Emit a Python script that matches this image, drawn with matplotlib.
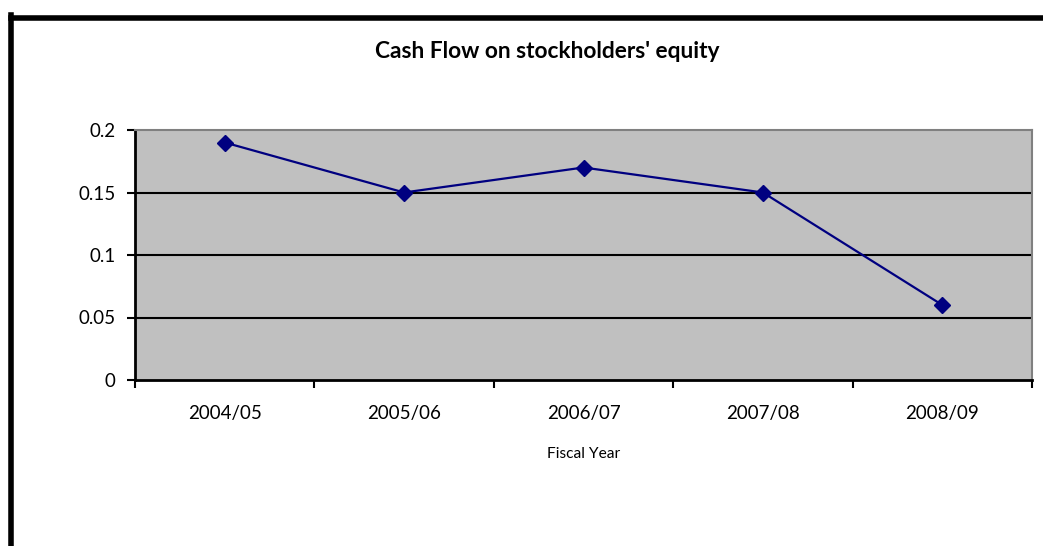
import matplotlib.pyplot as plt
from matplotlib.lines import Line2D
from matplotlib.ticker import FixedLocator, NullFormatter

years = ["2004/05", "2005/06", "2006/07", "2007/08", "2008/09"]
cash_flow = [0.19, 0.15, 0.17, 0.15, 0.06]
y_ticks = [0, 0.05, 0.1, 0.15, 0.2]
y_labels = ["0", "0.05", "0.1", "0.15", "0.2"]

plt.rcParams['font.family'] = ['Lato', 'DejaVu Sans']

fig = plt.figure(figsize=(10.43, 5.46), dpi=100)
ax = fig.add_axes([135 / 1043, 1 - 380 / 546, 897 / 1043, 250 / 546])

ax.set_facecolor("#C0C0C0")
x = list(range(len(years)))
ax.plot(x, cash_flow, color="#000080", linewidth=1.6, marker="D",
        markersize=8.2, zorder=3)

ax.set_xlim(-0.5, len(years) - 0.5)
ax.set_ylim(0, 0.2)

# gridlines
for v in y_ticks[1:-1]:
    ax.axhline(v, color="black", linewidth=1.5, zorder=1)

ax.set_yticks(y_ticks)
ax.set_yticklabels(y_labels, fontsize=13.5)
ax.xaxis.set_major_locator(FixedLocator([i - 0.5 for i in range(len(years) + 1)]))
ax.xaxis.set_major_formatter(NullFormatter())
ax.xaxis.set_minor_locator(FixedLocator(x))
ax.set_xticklabels(years, minor=True, fontsize=13.5)
ax.tick_params(axis="x", which="minor", length=0, pad=18)
ax.tick_params(axis="x", which="major", length=6, width=1.5, direction="out")
ax.tick_params(axis="y", length=6, width=1.5, direction="out", pad=8)

ax.spines["left"].set_linewidth(2)
ax.spines["bottom"].set_linewidth(2)
ax.spines["top"].set_color("#808080")
ax.spines["right"].set_color("#808080")
ax.spines["top"].set_linewidth(1.5)
ax.spines["right"].set_linewidth(1.5)

ax.set_xlabel("Fiscal Year", fontsize=11.2, labelpad=18)

fig.text(547 / 1043, 1 - 51 / 546, "Cash Flow on stockholders' equity",
         ha="center", va="center", fontsize=16.4, fontweight="bold")

# outer chart border (only top and left visible)
fig.add_artist(Line2D([10.5 / 1043, 10.5 / 1043], [1 - 15 / 546, 0],
                      transform=fig.transFigure, color="black", linewidth=4,
                      solid_capstyle="projecting"))
fig.add_artist(Line2D([10.5 / 1043, 1], [1 - 17.5 / 546, 1 - 17.5 / 546],
                      transform=fig.transFigure, color="black", linewidth=4,
                      solid_capstyle="projecting"))

fig.savefig("out.png", dpi=100)
